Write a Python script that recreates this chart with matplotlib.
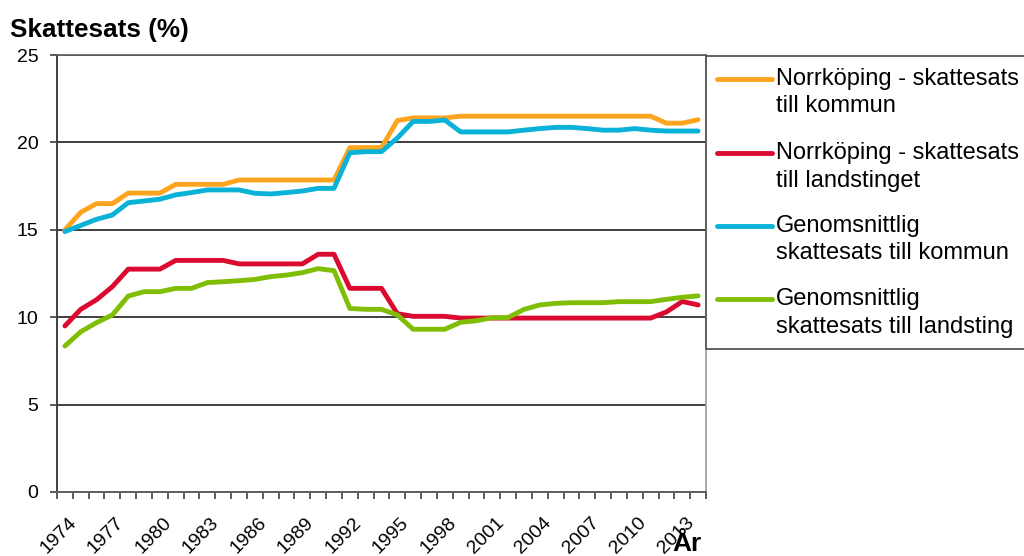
import matplotlib
matplotlib.use("Agg")
import matplotlib.pyplot as plt
import matplotlib.transforms as mtransforms
from matplotlib.lines import Line2D
from matplotlib.patches import Rectangle

plt.rcParams['font.family'] = ['Liberation Sans', 'DejaVu Sans']

# === Data ===
years = list(range(1974, 2015))

norrk_kommun = [15.0, 16.0, 16.5, 16.5, 17.1, 17.1, 17.1, 17.6, 17.6, 17.6,
                17.6, 17.85, 17.85, 17.85, 17.85, 17.85, 17.85, 17.85, 19.7, 19.7,
                19.7, 21.25, 21.4, 21.4, 21.4, 21.5, 21.5, 21.5, 21.5, 21.5,
                21.5, 21.5, 21.5, 21.5, 21.5, 21.5, 21.5, 21.5, 21.1, 21.1,
                21.3]
norrk_landsting = [9.5, 10.45, 11.0, 11.75, 12.75, 12.75, 12.75, 13.25, 13.25, 13.25,
                   13.25, 13.05, 13.05, 13.05, 13.05, 13.05, 13.6, 13.6, 11.65, 11.65,
                   11.65, 10.2, 10.05, 10.05, 10.05, 9.95, 9.95, 9.95, 9.95, 9.95,
                   9.95, 9.95, 9.95, 9.95, 9.95, 9.95, 9.95, 9.95, 10.3, 10.9,
                   10.7]
snitt_kommun = [14.9, 15.25, 15.6, 15.85, 16.55, 16.65, 16.75, 17.0, 17.13, 17.28,
                17.28, 17.28, 17.09, 17.05, 17.13, 17.22, 17.37, 17.37, 19.41, 19.47,
                19.47, 20.25, 21.2, 21.2, 21.28, 20.6, 20.6, 20.6, 20.6, 20.7,
                20.79, 20.86, 20.86, 20.79, 20.7, 20.7, 20.79, 20.7, 20.65, 20.65,
                20.65]
snitt_landsting = [8.35, 9.17, 9.69, 10.13, 11.21, 11.46, 11.46, 11.65, 11.65, 11.98,
                   12.03, 12.09, 12.16, 12.32, 12.41, 12.55, 12.78, 12.66, 10.5, 10.45,
                   10.45, 10.13, 9.31, 9.31, 9.31, 9.71, 9.8, 9.97, 9.98, 10.45,
                   10.7, 10.79, 10.83, 10.83, 10.83, 10.89, 10.89, 10.89, 11.02, 11.14,
                   11.22]

series = [norrk_kommun, norrk_landsting, snitt_kommun, snitt_landsting]
labels = ["Norrköping - skattesats\ntill kommun",
          "Norrköping - skattesats\ntill landstinget",
          "Genomsnittlig\nskattesats till kommun",
          "Genomsnittlig\nskattesats till landsting"]
colors = ['#FFA41F', '#DA0A30', '#0AB2D8', '#80BE05']

label_years = years[::3]
y_ticks = [0, 5, 10, 15, 20, 25]

# === Figure ===
W, H = 1024, 556
fig = plt.figure(figsize=(W / 100, H / 100), dpi=100)

def fx(px):
    return px / W

def fy(py):
    return 1 - py / H

ax = fig.add_axes([fx(57), fy(492), fx(706 - 57), (492 - 55) / H])

for vals, col in zip(series, colors):
    ax.plot(years, vals, color=col, lw=3.5, solid_capstyle='round',
            solid_joinstyle='round', zorder=3)

ax.set_xlim(years[0] - 0.5, years[-1] + 0.5)
ax.set_ylim(0, 25)

# y axis
ax.set_yticks(y_ticks)
ax.tick_params(axis='y', direction='out', length=5, width=1.2, color='#404040',
               labelsize=14, pad=8.5)
ax.yaxis.grid(True, color='#303030', lw=1.3)
ax.set_axisbelow(True)

# x axis: marks between categories, labels at every third year
ax.set_xticks([y - 0.5 for y in years] + [years[-1] + 0.5], minor=True)
ax.set_xticks(label_years)
ax.set_xticklabels([str(y) for y in label_years], rotation=45, ha='right',
                   va='top', rotation_mode='anchor')
ax.tick_params(axis='x', which='minor', direction='out', length=5, width=1.2,
               color='#404040')
ax.tick_params(axis='x', which='major', length=0, labelsize=14, pad=16)
shift = mtransforms.ScaledTranslation(3 / 100, 0, fig.dpi_scale_trans)
for lab in ax.get_xticklabels():
    lab.set_transform(lab.get_transform() + shift)

ax.spines['left'].set_color('#404040')
ax.spines['left'].set_linewidth(1.4)
ax.spines['bottom'].set_color('#606060')
ax.spines['bottom'].set_linewidth(1.4)
ax.spines['top'].set_color('#606060')
ax.spines['top'].set_linewidth(1.2)
ax.spines['right'].set_color('#9a9a9a')
ax.spines['right'].set_linewidth(1.2)

# axis titles
fig.text(fx(10), fy(36.5), "Skattesats (%)", fontsize=18.8, fontweight='bold',
         ha='left', va='baseline')
fig.text(fx(672), fy(532), "År", fontsize=19, fontweight='bold',
         ha='left', va='top')

# === Legend (drawn in figure pixels) ===
fig.patches.append(Rectangle((fx(706), fy(349)), fx(1040 - 706), (349 - 56) / H,
                             transform=fig.transFigure, facecolor='white',
                             edgecolor='#555555', lw=1.3, zorder=5))
row_y = [79, 153, 226, 299]
for yy, lab, col in zip(row_y, labels, colors):
    fig.lines.append(Line2D([fx(717), fx(772)], [fy(yy), fy(yy)],
                            transform=fig.transFigure, color=col, lw=3.5,
                            solid_capstyle='round', zorder=6))
    for i, part in enumerate(lab.split('\n')):
        fig.text(fx(776), fy(yy + 27.5 * i), part, fontsize=17, ha='left',
                 va='center', zorder=6)

fig.savefig("out.png", dpi=100)
